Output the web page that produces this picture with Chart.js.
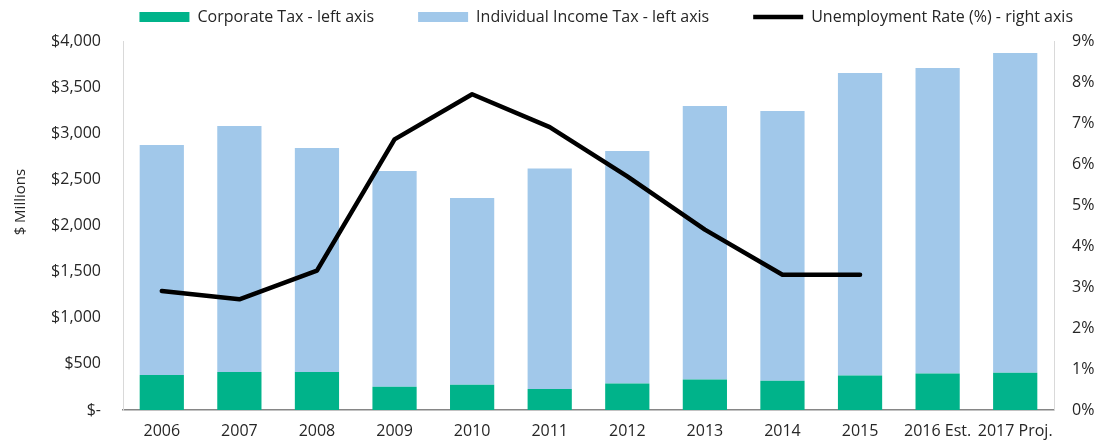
<!DOCTYPE html>
<html>
<head>
<meta charset="utf-8">
<script src="https://cdn.jsdelivr.net/npm/chart.js@4"></script>
<style>
  html, body { margin: 0; padding: 0; background: #fff; }
  #wrap { width: 1110px; height: 444px; position: relative; }
</style>
</head>
<body>
<div id="wrap"><canvas id="chart"></canvas></div>
<script>
const years = ["2006", "2007", "2008", "2009", "2010", "2011", "2012", "2013", "2014", "2015", "2016 Est.", "2017 Proj."];
const corporateTax = [380, 413, 413, 253, 275, 228, 286, 330, 318, 373, 395, 405];
const individualTax = [2493, 2666, 2427, 2337, 2023, 2391, 2522, 2965, 2922, 3280, 3312, 3465];
const unemployment = [2.9, 2.7, 3.4, 6.6, 7.7, 6.9, 5.7, 4.4, 3.3, 3.3, null, null];
const leftTicks = [0, 500, 1000, 1500, 2000, 2500, 3000, 3500, 4000];
const rightTicks = [0, 1, 2, 3, 4, 5, 6, 7, 8, 9];

Chart.defaults.font.family = "'Open Sans', 'Noto Sans', sans-serif";
Chart.defaults.font.size = 16;
Chart.defaults.color = "#262626";

// legend keeps its item padding, but the block under it is made taller
const legendHeight = {
  id: "legendHeight",
  beforeLayout(chart) {
    const lg = chart.legend;
    if (!lg || lg._fixed) return;
    const fit = lg.fit;
    lg.fit = function () {
      fit.call(this);
      this.height = 76;
    };
    lg._fixed = true;
  },
};

const ctx = document.getElementById("chart").getContext("2d");
new Chart(ctx, {
  type: "bar",
  data: {
    labels: years,
    datasets: [
      {
        label: "Corporate Tax - left axis",
        data: corporateTax,
        backgroundColor: "#00b38a",
        borderWidth: 0,
        stack: "tax",
        yAxisID: "y",
        barPercentage: 0.57,
        categoryPercentage: 1,
        order: 2,
        pointStyle: "rect",
      },
      {
        label: "Individual Income Tax - left axis",
        data: individualTax,
        backgroundColor: "#a1c8ea",
        borderWidth: 0,
        stack: "tax",
        yAxisID: "y",
        barPercentage: 0.57,
        categoryPercentage: 1,
        order: 2,
        pointStyle: "rect",
      },
      {
        type: "line",
        label: "Unemployment Rate (%) - right axis",
        data: unemployment,
        borderColor: "#000",
        backgroundColor: "#000",
        borderWidth: 4.5,
        borderCapStyle: "round",
        borderJoinStyle: "round",
        pointRadius: 0,
        tension: 0,
        spanGaps: false,
        yAxisID: "y1",
        order: 1,
        pointStyle: "line",
      },
    ],
  },
  plugins: [legendHeight],
  options: {
    responsive: true,
    maintainAspectRatio: false,
    animation: false,
    layout: { padding: { top: -35, left: 0, right: -7, bottom: 0 } },
    plugins: {
      tooltip: { enabled: false },
      legend: {
        position: "top",
        align: "end",
        labels: {
          usePointStyle: true,
          pointStyleWidth: 50,
          boxHeight: 10,
          padding: 44,
          font: { size: 16 },
          color: "#262626",
          sort: (a, b) => a.datasetIndex - b.datasetIndex,
        },
      },
    },
    scales: {
      x: {
        stacked: true,
        grid: { display: false, drawTicks: false },
        border: { display: true, color: "#868686", width: 1.5 },
        ticks: { padding: 12, font: { size: 16 }, maxRotation: 0, autoSkip: false },
        afterFit: (s) => { s.height = 34; },
      },
      y: {
        stacked: true,
        position: "left",
        min: 0,
        max: 4000,
        afterBuildTicks: (s) => { s.ticks = leftTicks.map((v) => ({ value: v })); },
        grid: { display: false, drawTicks: false },
        border: { display: true, color: "#d9d9d9", width: 1 },
        ticks: {
          padding: 22,
          font: { size: 16 },
          callback: (v) => (v === 0 ? "$-" : "$" + v.toLocaleString("en-US")),
        },
        title: {
          display: true,
          text: "            $ Millions",
          font: { size: 15 },
          padding: { top: 12, bottom: 0 },
        },
        afterFit: (s) => { s.width = 123; },
      },
      y1: {
        position: "right",
        min: 0,
        max: 9,
        afterBuildTicks: (s) => { s.ticks = rightTicks.map((v) => ({ value: v })); },
        grid: { display: false, drawTicks: false },
        border: { display: true, color: "#d9d9d9", width: 1 },
        ticks: { padding: 18, font: { size: 16 }, callback: (v) => v + "%" },
        afterFit: (s) => { s.width = 63; },
      },
    },
  },
});
</script>
</body>
</html>
